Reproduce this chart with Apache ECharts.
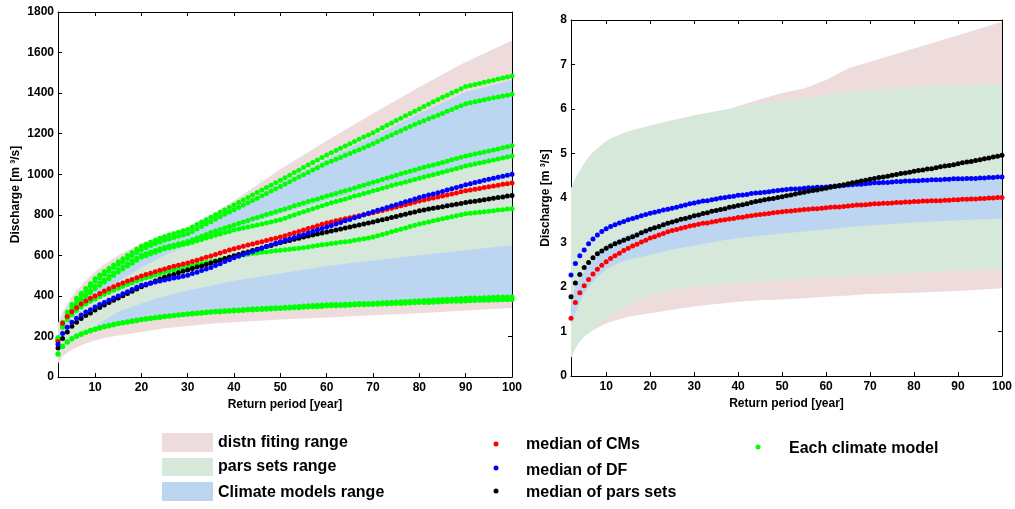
<!DOCTYPE html>
<html><head><meta charset="utf-8">
<script src="https://cdn.jsdelivr.net/npm/echarts@6.0.0/dist/echarts.min.js"></script>
<style>html,body{margin:0;padding:0;background:#fff}#c{width:1015px;height:509px}</style>
</head><body><div id="c"></div>
<script>
// ---------- categories / ticks ----------
const years = [];
for (let y = 2; y <= 100; y++) years.push(y);
const xTickVals = [10, 20, 30, 40, 50, 60, 70, 80, 90, 100];

// ---------- LEFT chart: dot series (return period 2..100) ----------
const medCM_L = [175,265,298,322,342,360,375,388,400,412,424,435,445,455,464,473,481,490,498,505,512,519,526,533,540,546,551,557,562,569,576,583,590,597,604,612,619,626,633,639,645,651,656,662,667,673,679,684,690,697,704,711,718,725,732,739,746,753,760,765,770,775,780,785,790,795,800,805,810,816,821,827,832,838,844,850,856,862,868,873,878,883,888,893,898,903,908,913,918,922,926,930,934,938,942,946,950,953,957];
const medDF_L = [162,215,245,270,290,306,320,332,345,357,368,379,390,400,411,421,432,442,452,457,462,468,473,478,483,488,492,497,502,510,517,525,532,540,550,559,569,578,588,596,604,611,619,627,635,643,651,659,667,674,681,688,695,702,710,717,725,732,740,747,755,762,770,777,785,792,800,807,815,822,829,836,843,850,857,864,871,878,885,891,897,903,909,915,922,928,935,941,948,953,959,964,970,975,980,985,990,995,1000];
const medPars_L = [143,190,222,250,270,288,303,316,330,343,355,367,378,390,401,412,423,434,445,454,464,473,483,492,499,506,514,521,528,535,542,548,555,562,569,576,584,591,598,604,611,617,624,630,636,643,649,656,662,668,673,679,684,690,695,700,705,710,715,720,725,730,735,740,745,750,755,760,765,770,776,781,787,792,798,803,809,814,820,824,828,832,836,840,844,848,852,856,860,864,867,871,874,878,881,885,888,892,895];
const cm1_L = [195,270,320,358,388,413,437,460,485,503,520,536,552,568,583,599,614,630,645,655,665,675,684,692,700,707,714,721,728,740,752,764,776,788,800,812,824,836,848,860,873,885,898,910,922,934,946,958,970,983,995,1008,1020,1033,1045,1058,1070,1083,1095,1106,1117,1128,1139,1150,1161,1172,1183,1194,1205,1217,1229,1241,1253,1265,1276,1288,1299,1311,1322,1334,1345,1357,1368,1380,1390,1401,1411,1422,1432,1437,1442,1448,1453,1458,1463,1469,1474,1480,1485];
const cm2_L = [190,262,312,350,380,404,427,449,473,490,507,523,540,556,570,585,599,614,628,638,648,657,666,674,681,688,694,700,706,718,730,742,754,766,778,790,802,814,825,836,848,859,871,882,894,905,917,928,940,952,963,975,986,998,1009,1021,1032,1044,1055,1064,1074,1083,1093,1102,1112,1121,1131,1140,1150,1161,1172,1183,1194,1205,1215,1225,1235,1245,1255,1264,1273,1282,1291,1300,1310,1319,1329,1338,1348,1353,1358,1362,1367,1372,1377,1381,1386,1390,1395];
const cm3_L = [185,255,300,335,362,385,405,425,447,464,480,497,513,530,544,558,572,586,600,608,616,624,632,640,646,651,657,662,668,677,686,694,703,712,720,727,735,742,750,757,765,772,780,787,794,801,808,815,822,829,836,844,851,858,865,872,878,885,892,899,905,912,918,925,932,939,946,953,960,967,974,981,988,995,1002,1008,1015,1021,1028,1034,1040,1046,1052,1058,1064,1071,1077,1084,1090,1095,1100,1105,1110,1115,1120,1125,1130,1135,1140];
const cm4_L = [180,250,295,328,355,377,397,415,435,452,468,485,501,518,532,547,561,576,590,598,607,615,624,632,637,642,648,653,658,665,672,678,685,692,699,705,712,718,725,730,735,740,745,750,755,760,765,770,775,783,791,799,807,815,822,830,837,845,852,859,865,872,878,885,892,898,905,911,918,924,931,937,944,950,956,962,968,974,980,986,992,998,1004,1010,1016,1022,1028,1034,1040,1045,1050,1055,1060,1065,1070,1075,1080,1085,1090];
const cm5_L = [185,245,283,308,328,345,360,373,385,397,408,418,428,438,447,456,465,473,482,489,496,503,510,517,523,528,534,540,545,550,555,560,565,570,575,580,585,590,595,598,602,605,609,612,615,617,620,622,625,628,630,633,635,638,641,645,648,652,655,658,661,664,667,670,674,678,682,686,690,696,703,709,716,722,729,735,742,748,755,760,765,770,775,780,785,790,795,800,805,808,810,813,815,818,820,823,825,828,830];
const cm6_L = [115,152,174,190,203,213,222,230,237,244,250,255,260,265,269,273,277,281,285,288,291,294,297,300,302,305,307,310,312,314,316,318,320,322,324,325,327,328,330,331,333,334,336,337,338,339,340,341,342,344,345,347,348,350,351,352,354,355,356,357,358,358,359,360,361,362,362,363,364,365,366,368,369,370,371,372,374,375,376,377,378,380,381,382,383,384,386,387,388,389,390,390,391,392,393,394,394,395,396];
const cm7_L = [112,149,171,187,200,210,219,227,234,241,247,252,257,262,266,270,274,278,282,285,288,291,294,297,299,302,304,307,309,311,313,315,317,319,320,321,323,324,326,327,328,330,331,332,333,334,335,336,338,339,340,341,342,344,345,346,347,348,350,351,351,352,353,354,355,356,356,357,358,359,360,360,361,362,363,364,365,366,367,368,368,369,370,371,372,373,373,374,375,376,377,378,379,379,380,380,381,381,382];

// ---------- LEFT chart: ranges ----------
const bandYearsL = [2,3,4,5,6,8,10,12,15,20,25,30,35,40,50,60,70,80,90,100];
const distnHiL = [265,320,360,395,425,475,520,555,600,660,705,738,800,870,1025,1165,1299,1430,1553,1660];
const distnLoL = [66,100,120,135,147,165,180,192,205,222,240,252,262,270,283,293,304,315,328,340];
const climHiL  = [190,262,312,350,380,430,478,513,560,630,680,712,770,835,955,1075,1185,1300,1405,1465];
const climLoL  = [105,140,160,178,190,210,225,238,253,273,288,300,310,318,332,344,352,360,366,372];
const parsHiL  = [175,225,255,290,315,355,395,425,470,540,600,650,690,730,805,870,935,990,1040,1085];
const parsLoL  = [90,120,140,160,178,210,250,280,320,362,400,427,450,475,510,548,575,600,625,650];

// ---------- RIGHT chart: dot series ----------
const medCM_R = [1.30,1.65,1.87,2.03,2.17,2.29,2.40,2.49,2.57,2.64,2.70,2.76,2.82,2.87,2.92,2.96,3.01,3.05,3.10,3.13,3.17,3.20,3.24,3.27,3.29,3.32,3.34,3.37,3.39,3.41,3.43,3.44,3.46,3.48,3.50,3.51,3.53,3.54,3.56,3.57,3.59,3.60,3.62,3.63,3.64,3.65,3.67,3.68,3.69,3.70,3.71,3.72,3.73,3.74,3.75,3.76,3.76,3.77,3.78,3.79,3.80,3.80,3.81,3.82,3.83,3.84,3.84,3.85,3.86,3.87,3.87,3.88,3.88,3.89,3.90,3.90,3.91,3.91,3.92,3.92,3.93,3.93,3.94,3.94,3.94,3.95,3.95,3.96,3.96,3.97,3.97,3.98,3.98,3.99,3.99,4.00,4.00,4.01,4.01];
const medDF_R = [2.27,2.53,2.70,2.83,2.97,3.08,3.17,3.25,3.31,3.36,3.40,3.44,3.47,3.51,3.54,3.57,3.60,3.63,3.66,3.68,3.70,3.73,3.75,3.77,3.79,3.82,3.84,3.87,3.89,3.91,3.93,3.94,3.96,3.98,4.00,4.01,4.03,4.04,4.06,4.07,4.08,4.10,4.11,4.12,4.13,4.14,4.16,4.17,4.18,4.19,4.20,4.20,4.21,4.22,4.23,4.23,4.24,4.24,4.25,4.26,4.27,4.27,4.28,4.29,4.30,4.31,4.31,4.32,4.33,4.34,4.34,4.35,4.35,4.36,4.37,4.37,4.38,4.38,4.39,4.39,4.40,4.40,4.41,4.41,4.41,4.42,4.42,4.43,4.43,4.43,4.44,4.44,4.44,4.45,4.45,4.46,4.46,4.47,4.47];
const medPars_R = [1.78,2.09,2.28,2.44,2.55,2.66,2.75,2.81,2.87,2.92,2.97,3.01,3.05,3.09,3.13,3.17,3.22,3.26,3.30,3.33,3.36,3.40,3.43,3.46,3.49,3.52,3.54,3.57,3.60,3.62,3.65,3.67,3.70,3.72,3.74,3.76,3.79,3.81,3.83,3.85,3.87,3.90,3.92,3.94,3.96,3.98,3.99,4.01,4.03,4.05,4.07,4.09,4.11,4.13,4.15,4.17,4.18,4.20,4.22,4.24,4.26,4.28,4.30,4.32,4.34,4.36,4.38,4.40,4.42,4.44,4.46,4.47,4.49,4.51,4.53,4.55,4.56,4.58,4.60,4.62,4.63,4.65,4.66,4.68,4.70,4.72,4.73,4.75,4.77,4.79,4.81,4.82,4.84,4.86,4.88,4.90,4.92,4.94,4.96];

// ---------- RIGHT chart: ranges ----------
const bandYearsR = [2,3,4,5,6,7,8,10,12,15,20,25,30,35,40,45,50,55,60,65,70,80,90,100];
const distnHiR = [3.8,4.0,4.2,4.35,4.5,4.6,4.7,4.9,5.05,5.2,5.4,5.55,5.72,5.88,6.07,6.22,6.36,6.46,6.65,6.91,7.06,7.36,7.66,7.96];
const distnLoR = [0.75,0.82,0.87,0.9,0.96,1.02,1.08,1.18,1.25,1.33,1.41,1.49,1.56,1.62,1.67,1.70,1.72,1.75,1.78,1.81,1.84,1.87,1.91,1.97];
const parsHiR  = [4.22,4.45,4.62,4.78,4.92,5.03,5.12,5.28,5.38,5.50,5.63,5.75,5.86,5.95,6.04,6.13,6.2,6.26,6.31,6.37,6.42,6.49,6.54,6.57];
const parsLoR  = [0.40,0.62,0.78,0.88,0.97,1.05,1.12,1.28,1.40,1.58,1.82,1.93,2.0,2.05,2.1,2.13,2.16,2.19,2.22,2.25,2.27,2.32,2.37,2.40];
const climHiR  = [1.7,2.0,2.2,2.35,2.5,2.6,2.7,2.95,3.05,3.18,3.32,3.45,3.55,3.68,3.8,3.92,4.02,4.12,4.2,4.26,4.3,4.35,4.38,4.40];
const climLoR  = [1.15,1.42,1.65,1.85,2.0,2.12,2.22,2.4,2.5,2.62,2.72,2.84,2.93,3.02,3.1,3.15,3.2,3.25,3.3,3.34,3.38,3.45,3.5,3.54];

// ---------- legend labels ----------
const bandLabels = ['distn fiting range', 'pars sets range', 'Climate models range'];
const dotLabels = ['median of CMs', 'median of DF', 'median of pars sets'];
const cmLabel = 'Each climate model';

// ---------- sanity checks ----------
const dotArrays = {medCM_L, medDF_L, medPars_L, cm1_L, cm2_L, cm3_L, cm4_L, cm5_L, cm6_L, cm7_L, medCM_R, medDF_R, medPars_R};
for (const [k, v] of Object.entries(dotArrays)) if (v.length !== years.length) throw new Error(k + ' length ' + v.length);
const bandL = {distnHiL, distnLoL, climHiL, climLoL, parsHiL, parsLoL};
for (const [k, v] of Object.entries(bandL)) if (v.length !== bandYearsL.length) throw new Error(k + ' length ' + v.length);
const bandR = {distnHiR, distnLoR, parsHiR, parsLoR, climHiR, climLoR};
for (const [k, v] of Object.entries(bandR)) if (v.length !== bandYearsR.length) throw new Error(k + ' length ' + v.length);

// ---------- styling ----------
const FONT = '"Liberation Sans", Arial, sans-serif';
const C_DISTN = '#eedcdc', C_PARS = '#d6e8d9', C_CLIM = '#bcd5f1';
const C_RED = '#ff0000', C_BLUE = '#0000ff', C_BLACK = '#000000', C_GREEN = '#00ff00';

function xAx(gi, top) {
  return {
    type: 'value', gridIndex: gi, min: 2, max: 100, position: top ? 'top' : 'bottom',
    axisLine: {show: true, onZero: false, lineStyle: {color: '#000', width: 1}},
    axisTick: {show: true, inside: true, length: 4, customValues: xTickVals, lineStyle: {color: '#000'}},
    axisLabel: {show: !top, customValues: xTickVals, formatter: v => String(v), color: '#000', fontSize: 12, fontWeight: 'bold', fontFamily: FONT, margin: 5},
    splitLine: {show: false},
    name: top ? '' : 'Return period [year]', nameLocation: 'middle', nameGap: 20,
    nameTextStyle: {color: '#000', fontSize: 12, fontWeight: 'bold', fontFamily: FONT}
  };
}
function yAx(gi, right, max, interval, gap) {
  return {
    type: 'value', gridIndex: gi, min: 0, max: max, interval: interval, position: right ? 'right' : 'left',
    axisLine: {show: true, onZero: false, lineStyle: {color: '#000', width: 1}},
    axisTick: {show: true, inside: true, length: 4, lineStyle: {color: '#000'}},
    axisLabel: {show: !right, formatter: v => String(v), color: '#000', fontSize: 12, fontWeight: 'bold', fontFamily: FONT, margin: 4},
    splitLine: {show: false},
    name: right ? '' : 'Discharge [m ³/s]', nameLocation: 'middle', nameGap: gap,
    nameTextStyle: {color: '#000', fontSize: 12, fontWeight: 'bold', fontFamily: FONT}
  };
}
function band(xi, yi, xs, lo, hi, color) {
  return {
    type: 'custom', xAxisIndex: xi, yAxisIndex: yi, silent: true, z: 1,
    data: [[xs[0], lo[0]]],
    renderItem: function (params, api) {
      const pts = [];
      for (let i = 0; i < xs.length; i++) pts.push(api.coord([xs[i], hi[i]]));
      for (let i = xs.length - 1; i >= 0; i--) pts.push(api.coord([xs[i], lo[i]]));
      return {type: 'polygon', shape: {points: pts}, style: {fill: color}};
    }
  };
}
function dots(xi, yi, vals, color) {
  return {
    type: 'scatter', xAxisIndex: xi, yAxisIndex: yi, z: 3, symbol: 'circle', symbolSize: 5,
    itemStyle: {color: color, opacity: 1}, silent: true,
    data: years.map((x, i) => [x, vals[i]])
  };
}

const series = [
  band(0, 0, bandYearsL, distnLoL, distnHiL, C_DISTN),
  band(0, 0, bandYearsL, climLoL, climHiL, C_CLIM),
  band(0, 0, bandYearsL, parsLoL, parsHiL, C_PARS),
  dots(0, 0, cm1_L, C_GREEN), dots(0, 0, cm2_L, C_GREEN), dots(0, 0, cm3_L, C_GREEN),
  dots(0, 0, cm4_L, C_GREEN), dots(0, 0, cm5_L, C_GREEN), dots(0, 0, cm6_L, C_GREEN), dots(0, 0, cm7_L, C_GREEN),
  dots(0, 0, medCM_L, C_RED), dots(0, 0, medPars_L, C_BLACK), dots(0, 0, medDF_L, C_BLUE),
  band(2, 2, bandYearsR, distnLoR, distnHiR, C_DISTN),
  band(2, 2, bandYearsR, parsLoR, parsHiR, C_PARS),
  band(2, 2, bandYearsR, climLoR, climHiR, C_CLIM),
  dots(2, 2, medCM_R, C_RED), dots(2, 2, medDF_R, C_BLUE), dots(2, 2, medPars_R, C_BLACK)
];

const txt = (x, y, s) => ({type: 'text', left: x, top: y - 9, style: {text: s, fill: '#000', font: 'bold 16px ' + FONT}});
const graphic = [
  {type: 'rect', left: 162, top: 433, shape: {width: 51, height: 19}, style: {fill: C_DISTN}},
  {type: 'rect', left: 162, top: 458, shape: {width: 51, height: 18}, style: {fill: C_PARS}},
  {type: 'rect', left: 162, top: 482, shape: {width: 51, height: 19}, style: {fill: C_CLIM}},
  txt(218, 444, bandLabels[0]), txt(218, 468, bandLabels[1]), txt(218, 494, bandLabels[2]),
  {type: 'circle', shape: {cx: 496, cy: 444, r: 2.5}, style: {fill: C_RED}},
  {type: 'circle', shape: {cx: 496, cy: 468, r: 2.5}, style: {fill: C_BLUE}},
  {type: 'circle', shape: {cx: 496, cy: 491, r: 2.5}, style: {fill: C_BLACK}},
  txt(526, 446, dotLabels[0]), txt(526, 472, dotLabels[1]), txt(526, 494, dotLabels[2]),
  {type: 'circle', shape: {cx: 758, cy: 447, r: 2.5}, style: {fill: C_GREEN}},
  txt(789, 450, cmLabel)
];

const chart = echarts.init(document.getElementById('c'), null, {renderer: 'canvas'});
chart.setOption({
  animation: false,
  backgroundColor: '#fff',
  grid: [
    {left: 58, top: 12, width: 454, height: 365},
    {left: 571, top: 20, width: 431, height: 356}
  ],
  xAxis: [xAx(0, false), xAx(0, true), xAx(1, false), xAx(1, true)],
  yAxis: [yAx(0, false, 1800, 200, 36), yAx(0, true, 1800, 200, 0), yAx(1, false, 8, 1, 19), yAx(1, true, 8, 1, 0)],
  series: series,
  graphic: graphic
});
</script></body></html>
